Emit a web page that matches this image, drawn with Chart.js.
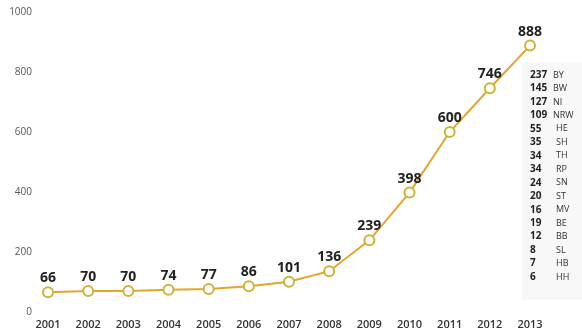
<!DOCTYPE html>
<html>
<head>
<meta charset="utf-8">
<script src="https://cdn.jsdelivr.net/npm/chart.js@4"></script>
<style>
  html, body { margin: 0; padding: 0; background: #fff; }
  #wrap { width: 582px; height: 332px; position: relative; }
</style>
</head>
<body>
<div id="wrap"><canvas id="chart"></canvas></div>
<script>
// Jahre und Werte
const years = ['2001', '2002', '2003', '2004', '2005', '2006', '2007', '2008', '2009', '2010', '2011', '2012', '2013'];
const totals = [66, 70, 70, 74, 77, 86, 101, 136, 239, 398, 600, 746, 888];
const yTicks = [0, 200, 400, 600, 800, 1000];

// Aufteilung nach Bundesland (2013)
const stateCounts = [237, 145, 127, 109, 55, 35, 34, 34, 24, 20, 16, 19, 12, 8, 7, 6];
const stateCodes = ['BY', 'BW', 'NI', 'NRW', 'HE', 'SH', 'TH', 'RP', 'SN', 'ST', 'MV', 'BE', 'BB', 'SL', 'HB', 'HH'];

// Werte über den Punkten
const valueLabels = {
    id: 'valueLabels',
    afterDatasetsDraw(chart) {
        const ctx = chart.ctx;
        const meta = chart.getDatasetMeta(0);
        ctx.save();
        ctx.font = 'bold 14px "Open Sans", sans-serif';
        ctx.fillStyle = '#222';
        ctx.textAlign = 'center';
        ctx.textBaseline = 'middle';
        meta.data.forEach((pt, i) => {
            ctx.fillText(String(totals[i]), pt.x, pt.y - 14);
        });
        ctx.restore();
    }
};

// Liste rechts
const stateList = {
    id: 'stateList',
    beforeDatasetsDraw(chart) {
        const ctx = chart.ctx;
        ctx.save();
        ctx.fillStyle = '#f8f8f8';
        ctx.fillRect(522, 62, 60, 238);
        ctx.textBaseline = 'middle';
        stateCounts.forEach((n, i) => {
            const y = 75 + i * 13.47;
            ctx.font = 'bold 10px "Open Sans", sans-serif';
            ctx.fillStyle = '#222';
            ctx.textAlign = 'left';
            ctx.fillText(String(n), 530, y);
            ctx.font = '9px "Open Sans", sans-serif';
            ctx.fillStyle = '#333';
            ctx.fillText(stateCodes[i], n >= 100 ? 553 : 556, y);
        });
        ctx.restore();
    }
};

document.addEventListener('DOMContentLoaded', function() {
    const el = document.getElementById('chart');
    new Chart(el, {
        type: 'line',
        data: {
            labels: years,
            datasets: [{
                data: totals,
                borderColor: '#e3a52c',
                borderWidth: 2,
                tension: 0,
                pointRadius: 5,
                pointBorderWidth: 2,
                pointBorderColor: '#cdb336',
                pointBackgroundColor: '#ffffff'
            }]
        },
        options: {
            responsive: true,
            maintainAspectRatio: false,
            animation: false,
            layout: { padding: { top: 12, right: 52, left: 0, bottom: 0 } },
            plugins: {
                legend: { display: false },
                tooltip: { enabled: false }
            },
            scales: {
                x: {
                    offset: false,
                    grid: { display: false, drawTicks: false },
                    border: { display: false },
                    afterFit(scale) {
                        scale.height = 20;
                        scale.paddingLeft = 0;
                        scale.paddingRight = 0;
                    },
                    ticks: {
                        padding: 6,
                        maxRotation: 0,
                        autoSkip: false,
                        color: '#333',
                        font: { family: '"Open Sans", sans-serif', size: 11, weight: '600' }
                    }
                },
                y: {
                    min: 0,
                    max: 1000,
                    grid: { display: false, drawTicks: false },
                    border: { display: false },
                    afterFit(scale) {
                        scale.width = 48;
                        scale.paddingTop = 0;
                        scale.paddingBottom = 0;
                    },
                    afterBuildTicks(scale) { scale.ticks = yTicks.map(v => ({ value: v })); },
                    ticks: {
                        padding: 16,
                        color: '#555',
                        font: { family: '"Open Sans", sans-serif', size: 10 },
                        callback: v => String(v)
                    }
                }
            }
        },
        plugins: [valueLabels, stateList]
    });
});
</script>
</body>
</html>
